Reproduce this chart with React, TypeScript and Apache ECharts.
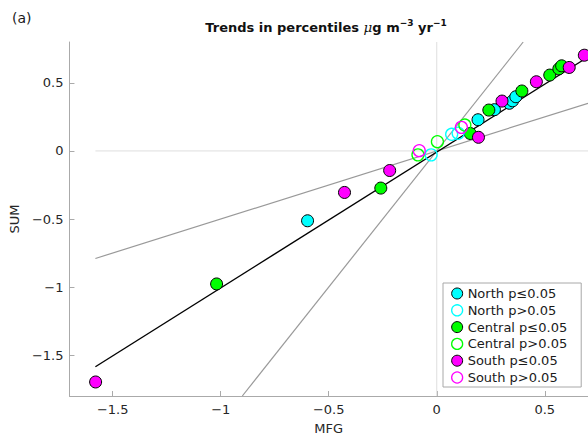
import React, { useEffect, useRef } from "react";
import * as echarts from "echarts";

const xTicks = [-1.5, -1, -0.5, 0, 0.5];
const yTicks = [-1.5, -1, -0.5, 0, 0.5];

const northSig = [[-0.598, -0.513], [0.191, 0.229], [0.267, 0.303], [0.336, 0.35], [0.351, 0.368], [0.366, 0.398]];
const northNs = [[-0.026, -0.029], [0.069, 0.122], [0.099, 0.13]];
const centralSig = [[-1.019, -0.977], [-0.259, -0.273], [0.155, 0.128], [0.241, 0.3], [0.394, 0.44], [0.523, 0.557], [0.565, 0.603], [0.578, 0.625]];
const centralNs = [[-0.087, -0.029], [0.003, 0.068], [0.13, 0.19]];
const southSig = [[-1.579, -1.697], [-0.427, -0.305], [-0.218, -0.144], [0.193, 0.1], [0.302, 0.366], [0.461, 0.508], [0.613, 0.613], [0.683, 0.703]];
const southNs = [[-0.081, 0.002], [0.114, 0.173]];

const fitLine = [[-1.58, -1.585], [0.7, 0.69]];
const halfLine = [[-1.58, -0.79], [0.7, 0.35]];
const doubleLine = [[-0.9, -1.8], [0.4, 0.8]];
const zeroH = [[-1.58, 0], [0.7, 0]];
const zeroV = [[0, -1.8], [0, 0.8]];

const CYAN = "#00ffff";
const GREEN = "#00ff00";
const MAGENTA = "#ff00ff";
const FONT = "DejaVu Sans";

const fmt = (v: number) => (v < 0 ? "\u2212" + Math.abs(v) : String(v));

export default function App() {
  const ref = useRef<HTMLDivElement>(null);
  useEffect(() => {
    if (!ref.current) return;
    const chart = echarts.init(ref.current, undefined, { renderer: "svg" });
    const lineS = (data: number[][], color: string, width: number, z: number) => ({
      type: "line",
      data,
      symbol: "none",
      silent: true,
      z,
      lineStyle: { color, width },
    });
    const sc = (name: string, data: number[][], color: string, filled: boolean) => ({
      type: "scatter",
      name,
      data,
      symbol: "circle",
      symbolSize: 12,
      z: 5,
      itemStyle: filled
        ? { color, borderColor: "#000", borderWidth: 1, opacity: 1 }
        : { color: "transparent", borderColor: color, borderWidth: 1.3, opacity: 1 },
    });
    const legItem = (name: string, color: string, filled: boolean) => ({
      name,
      icon: "circle",
      itemStyle: filled
        ? { color, borderColor: "#000", borderWidth: 1 }
        : { color: "transparent", borderColor: color, borderWidth: 1.3 },
    });
    const axisCommon = {
      type: "value",
      axisLine: { show: true, onZero: false, lineStyle: { color: "#aaaaaa", width: 1 } },
      splitLine: { show: false },
      nameTextStyle: { fontFamily: FONT, fontSize: 13, color: "#262626" },
    };
    chart.setOption({
      animation: false,
      backgroundColor: "#fff",
      grid: { left: 64, top: 42, right: 0, bottom: 43.3, containLabel: false },
      xAxis: {
        ...axisCommon,
        min: -1.7,
        max: 0.7,
        name: "MFG",
        nameLocation: "middle",
        nameGap: 26,
        axisTick: { show: true, inside: true, length: 5, customValues: xTicks, lineStyle: { color: "#aaaaaa" } },
        axisLabel: { customValues: xTicks, formatter: fmt, margin: 7, fontFamily: FONT, fontSize: 13, color: "#262626" },
      },
      yAxis: {
        ...axisCommon,
        min: -1.8,
        max: 0.8,
        name: "SUM",
        nameLocation: "middle",
        nameRotate: 90,
        nameGap: 39,
        axisTick: { show: true, inside: true, length: 5, customValues: yTicks, lineStyle: { color: "#aaaaaa" } },
        axisLabel: { customValues: yTicks, formatter: fmt, margin: 6, fontFamily: FONT, fontSize: 13, color: "#262626" },
      },
      legend: {
        orient: "vertical",
        left: 443,
        top: 283,
        itemWidth: 11,
        itemHeight: 11,
        itemGap: 3.8,
        padding: [4, 14, 3, 8],
        borderColor: "#a8a8a8",
        borderWidth: 1,
        borderRadius: 0,
        backgroundColor: "#fff",
        textStyle: { fontFamily: FONT, fontSize: 13, color: "#1a1a1a" },
        data: [
          legItem("North p\u22640.05", CYAN, true),
          legItem("North p>0.05", CYAN, false),
          legItem("Central p\u22640.05", GREEN, true),
          legItem("Central p>0.05", GREEN, false),
          legItem("South p\u22640.05", MAGENTA, true),
          legItem("South p>0.05", MAGENTA, false),
        ],
      },
      graphic: [
        {
          type: "text",
          left: 12,
          top: 11,
          style: { text: "(a)", font: `14px ${FONT}`, fill: "#1a1a1a" },
        },
        {
          type: "text",
          x: 326,
          y: 34,
          style: {
            text: "{b|Trends in percentiles }{mu|\u03bc}{b|g m}{sup|\u22123}{b| yr}{sup|\u22121}",
            align: "center",
            verticalAlign: "bottom",
            rich: {
              b: { fontFamily: FONT, fontWeight: "bold", fontSize: 13, fill: "#111", verticalAlign: "bottom" },
              mu: { fontFamily: "DejaVu Serif", fontStyle: "italic", fontSize: 13.5, fill: "#111", verticalAlign: "bottom" },
              sup: { fontFamily: FONT, fontWeight: "bold", fontSize: 9, fill: "#111", verticalAlign: "bottom", padding: [0, 0, 7, 0] },
            },
          },
        },
      ],
      series: [
        lineS(zeroV, "#dedede", 1, 1),
        lineS(zeroH, "#dedede", 1, 1),
        lineS(halfLine, "#999999", 1.2, 2),
        lineS(doubleLine, "#999999", 1.2, 2),
        lineS(fitLine, "#000000", 1.4, 3),
        sc("North p\u22640.05", northSig, CYAN, true),
        sc("Central p\u22640.05", centralSig, GREEN, true),
        sc("South p\u22640.05", southSig, MAGENTA, true),
        sc("North p>0.05", northNs, CYAN, false),
        sc("Central p>0.05", centralNs, GREEN, false),
        sc("South p>0.05", southNs, MAGENTA, false),
      ],
    });
    return () => chart.dispose();
  }, []);
  return <div ref={ref} style={{ position: "fixed", left: 0, top: 0, width: 588, height: 440 }} />;
}
